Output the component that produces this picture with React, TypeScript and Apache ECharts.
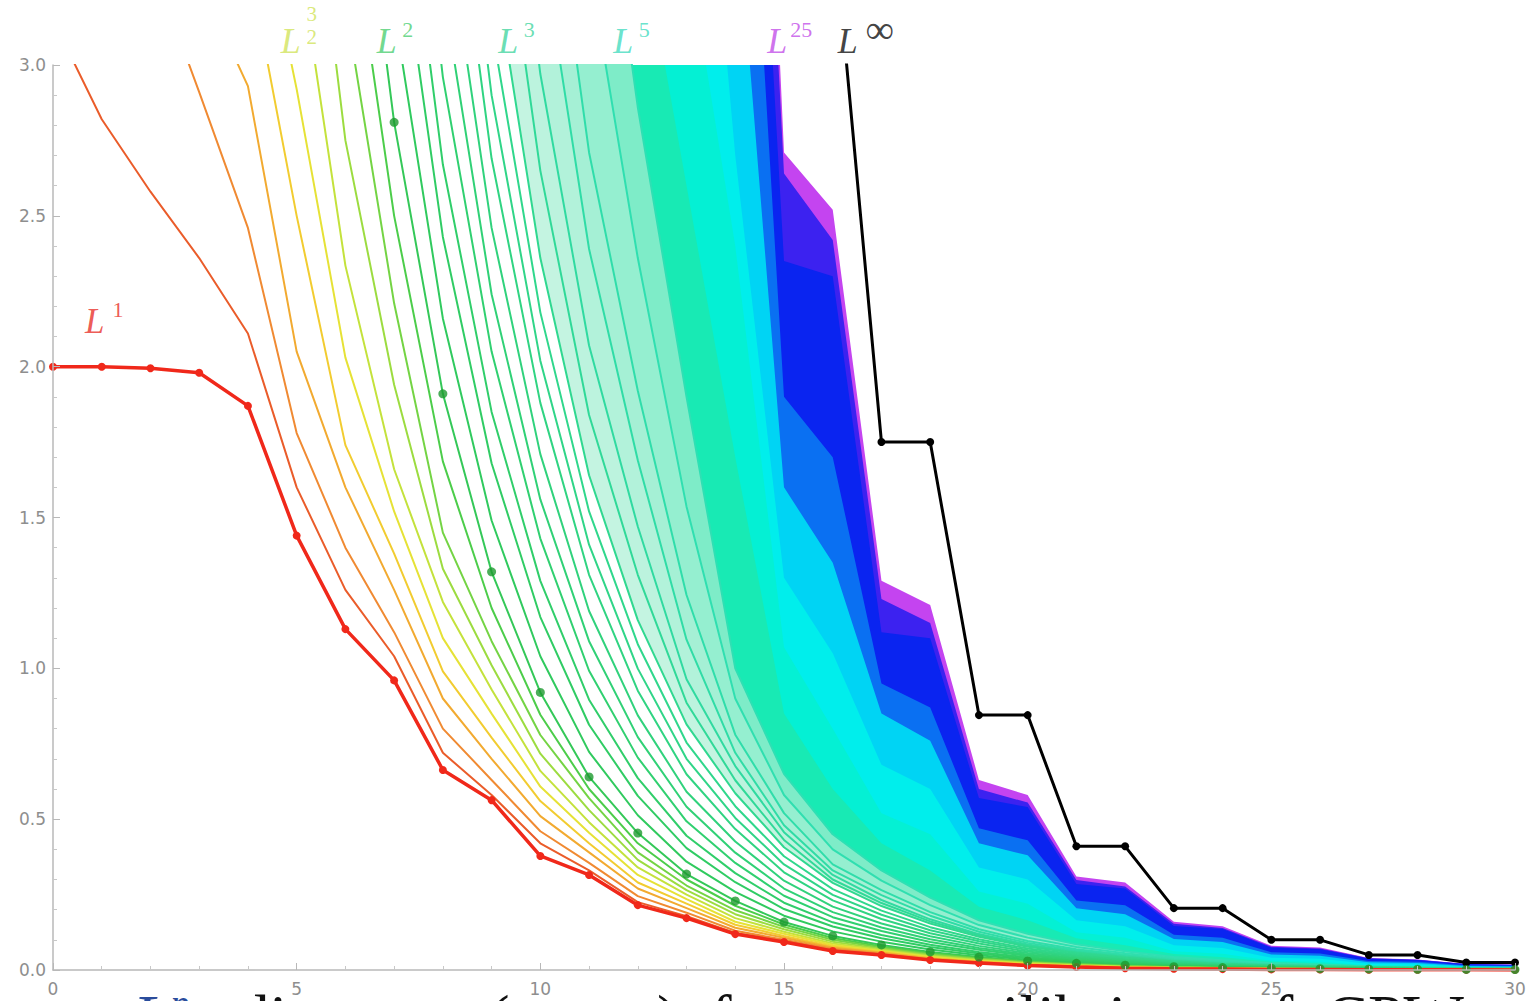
import React, { useEffect, useRef } from 'react';
import * as echarts from 'echarts';

// x positions (integer steps 0..30)
const XS = [0,1,2,3,4,5,6,7,8,9,10,11,12,13,14,15,16,17,18,19,20,21,22,23,24,25,26,27,28,29,30];
const N = null;

// L^p curves, p = 1 + 0.1k (null = not drawn)
const L1 = [2.0,2.0,1.995,1.98,1.87,1.44,1.13,0.96,0.663,0.563,0.378,0.315,0.215,0.172,0.119,0.093,0.063,0.05,0.033,0.023,0.015,0.01,0.006,0.004,0.003,0.002,0.0015,0.001,0.0007,0.0005,0.0003];
const P1_1 = [3.15,2.82,2.58,2.36,2.11,1.60,1.26,1.04,0.72,0.58,0.42,0.33,0.225,0.178,0.123,0.095,0.065,0.051,0.034,0.024,0.016,0.011,0.007,0.0047,0.0034,0.0024,0.0017,0.0012,0.0008,0.0006,0.0004];
const P1_2 = [4.0,3.7,3.35,2.91,2.46,1.78,1.40,1.12,0.80,0.63,0.46,0.355,0.245,0.19,0.13,0.10,0.07,0.054,0.036,0.025,0.017,0.012,0.0075,0.005,0.0037,0.0027,0.0019,0.0014,0.001,0.0007,0.0005];
const P1_3 = [4.4,4.0,3.65,3.28,2.93,2.05,1.60,1.26,0.90,0.70,0.51,0.39,0.27,0.205,0.14,0.107,0.074,0.057,0.038,0.027,0.018,0.012,0.008,0.0055,0.004,0.003,0.0022,0.0016,0.0012,0.0009,0.0006];
const P1_4 = [N,4.4,4.1,3.75,3.35,2.50,1.74,1.38,0.99,0.77,0.56,0.42,0.29,0.22,0.15,0.113,0.078,0.06,0.04,0.028,0.019,0.013,0.009,0.006,0.0045,0.0033,0.0024,0.0018,0.0013,0.001,0.0007];
const P1_5 = [N,N,N,4.3,3.7,2.92,2.03,1.52,1.10,0.85,0.608,0.455,0.315,0.235,0.16,0.12,0.083,0.063,0.043,0.03,0.02,0.014,0.01,0.007,0.005,0.004,0.003,0.002,0.0015,0.001,0.001];
const P1_6 = [N,N,N,N,4.3,3.41,2.335,1.66,1.22,0.93,0.66,0.49,0.34,0.25,0.172,0.127,0.088,0.066,0.046,0.032,0.022,0.015,0.011,0.008,0.006,0.0045,0.0035,0.0025,0.002,0.0015,0.0011];
const P1_7 = [N,N,N,N,5.0,4.07,2.75,1.94,1.33,1.01,0.717,0.53,0.365,0.265,0.185,0.135,0.094,0.07,0.049,0.035,0.024,0.017,0.012,0.0085,0.0065,0.005,0.0038,0.0028,0.0021,0.0016,0.0012];
const P1_8 = [N,N,N,N,N,4.6,3.2,2.21,1.45,1.09,0.779,0.57,0.39,0.28,0.198,0.143,0.10,0.074,0.052,0.037,0.026,0.019,0.013,0.009,0.007,0.0053,0.004,0.003,0.0022,0.0017,0.0013];
const P1_9 = [N,N,N,N,N,5.2,3.61,2.5,1.686,1.2,0.846,0.60,0.42,0.30,0.213,0.151,0.106,0.078,0.056,0.04,0.028,0.02,0.0145,0.01,0.0075,0.0056,0.0042,0.0032,0.0023,0.0018,0.0014];
const P2_0 = [N,N,N,N,N,5.9,4.08,2.81,1.91,1.32,0.92,0.64,0.454,0.318,0.229,0.159,0.113,0.083,0.06,0.043,0.03,0.022,0.016,0.011,0.008,0.006,0.0045,0.0035,0.0025,0.002,0.0015];
const P2_1 = [N,N,N,N,N,N,4.61,3.18,2.16,1.49,1.04,0.723,0.513,0.359,0.259,0.18,0.128,0.094,0.068,0.049,0.034,0.025,0.018,0.012,0.009,0.007,0.005,0.004,0.003,0.002,0.0017];
const P2_2 = [N,N,N,N,N,N,5.18,3.57,2.43,1.68,1.17,0.813,0.577,0.404,0.291,0.202,0.144,0.105,0.076,0.055,0.038,0.028,0.02,0.014,0.01,0.0076,0.0057,0.0044,0.0032,0.0025,0.0019];
const P2_3 = [N,N,N,N,N,N,5.71,3.93,2.67,1.85,1.29,0.896,0.636,0.445,0.321,0.223,0.158,0.116,0.084,0.06,0.042,0.031,0.022,0.015,0.011,0.0084,0.0063,0.0049,0.0035,0.0028,0.0021];
const P2_4 = [N,N,N,N,N,N,6.32,4.36,2.96,2.05,1.43,0.992,0.704,0.493,0.355,0.246,0.175,0.129,0.093,0.067,0.047,0.034,0.025,0.017,0.012,0.0093,0.007,0.0054,0.0039,0.0031,0.0023];
const P2_5 = [N,N,N,N,N,N,6.94,4.78,3.25,2.24,1.56,1.09,0.772,0.541,0.389,0.27,0.192,0.141,0.102,0.073,0.051,0.037,0.027,0.019,0.014,0.01,0.0077,0.006,0.0043,0.0034,0.0026];
const P2_6 = [N,N,N,N,N,N,7.59,5.23,3.55,2.46,1.71,1.19,0.844,0.591,0.426,0.296,0.21,0.154,0.112,0.08,0.056,0.041,0.03,0.02,0.015,0.011,0.0084,0.0065,0.0047,0.0037,0.0028];
const P2_7 = [N,N,N,N,N,N,8.32,5.73,3.9,2.69,1.88,1.31,0.926,0.649,0.467,0.324,0.231,0.169,0.122,0.088,0.061,0.045,0.033,0.022,0.016,0.012,0.0092,0.0071,0.0051,0.0041,0.0031];
const P2_8 = [N,N,N,N,N,N,8.98,6.18,4.2,2.9,2.02,1.41,0.999,0.7,0.504,0.35,0.249,0.183,0.132,0.095,0.066,0.048,0.035,0.024,0.018,0.013,0.0099,0.0077,0.0055,0.0044,0.0033];
const P2_9 = [N,N,N,N,N,N,9.67,6.66,4.53,3.13,2.18,1.52,1.08,0.754,0.543,0.377,0.268,0.197,0.142,0.102,0.071,0.052,0.038,0.026,0.019,0.014,0.011,0.0083,0.0059,0.0047,0.0036];
const P3_0 = [N,N,N,N,N,N,10.4,7.19,4.89,3.38,2.36,1.64,1.16,0.814,0.586,0.407,0.289,0.212,0.154,0.11,0.077,0.056,0.041,0.028,0.02,0.015,0.012,0.009,0.0064,0.0051,0.0038];
const P3_2 = [N,N,N,N,N,N,N,8.09,5.5,3.8,2.65,1.84,1.31,0.886,0.629,0.431,0.30,0.222,0.161,0.115,0.0805,0.0583,0.0427,0.0292,0.021,0.0156,0.0124,0.0093,0.0066,0.0052,0.0039];
const P3_4 = [N,N,N,N,N,N,N,9.08,6.17,4.26,2.97,2.07,1.47,0.964,0.676,0.457,0.315,0.232,0.168,0.119,0.0842,0.0607,0.0444,0.0304,0.022,0.0162,0.0128,0.0096,0.0069,0.0053,0.004];
const P3_7 = [N,N,N,N,N,N,N,10.5,7.12,4.92,3.43,2.39,1.69,1.095,0.72,0.48,0.33,0.248,0.18,0.127,0.0899,0.0645,0.0472,0.0325,0.0236,0.0171,0.0136,0.01,0.0072,0.0056,0.0042];
const P4_0 = [N,N,N,N,N,N,N,11.9,8.08,5.58,3.89,2.71,1.92,1.243,0.78,0.52,0.35,0.265,0.192,0.135,0.0961,0.0686,0.0502,0.0347,0.0253,0.0182,0.0143,0.0104,0.0076,0.0058,0.0044];
const P4_5 = [N,N,N,N,N,N,N,14.6,9.93,6.86,4.78,3.33,2.36,1.536,0.9,0.58,0.4,0.296,0.215,0.149,0.1073,0.0759,0.0556,0.0386,0.0285,0.02,0.0156,0.0111,0.0083,0.0061,0.0047];
const P5_0 = [N,N,N,N,N,N,N,17.7,12.0,8.32,5.8,4.03,2.86,1.9,1.0,0.65,0.45,0.33,0.24,0.165,0.12,0.085,0.062,0.043,0.032,0.022,0.017,0.012,0.009,0.0065,0.005];
const P7 = [N,N,N,N,N,N,N,24,16.4,11.4,7.9,5.5,3.5,2.6,1.7,0.85,0.6,0.42,0.33,0.21,0.165,0.105,0.082,0.053,0.042,0.027,0.022,0.014,0.011,0.0075,0.006];
const P10 = [N,N,N,N,N,N,N,32,21.8,15,10.5,7.3,5.0,3.4,2.4,1.07,0.8,0.52,0.45,0.26,0.22,0.125,0.107,0.062,0.054,0.031,0.027,0.016,0.014,0.0085,0.0073];
const P13 = [N,N,N,N,N,N,N,36,24,17,12,8.5,6.5,4.5,2.7,1.3,1.05,0.68,0.6,0.34,0.3,0.165,0.145,0.082,0.073,0.041,0.037,0.021,0.019,0.011,0.0098];
const P17 = [N,N,N,N,N,N,N,44,30,21,14,10,8,5.5,3.6,1.6,1.35,0.85,0.76,0.42,0.38,0.205,0.185,0.103,0.093,0.051,0.047,0.026,0.023,0.0135,0.012];
const P20 = [N,N,N,N,N,N,N,55,38,26,18,12,8.5,6.0,4.6,1.9,1.7,0.95,0.87,0.47,0.43,0.23,0.215,0.117,0.107,0.059,0.055,0.03,0.027,0.0155,0.014];
const P22 = [N,N,N,N,N,N,N,60,41,28,19.5,13,9,6.3,5.2,2.35,2.3,1.12,1.1,0.57,0.54,0.285,0.27,0.146,0.136,0.074,0.069,0.037,0.033,0.019,0.0168];
const P24 = [N,N,N,N,N,N,N,66,45,31,21,14,9.2,6.6,5.8,2.64,2.42,1.23,1.15,0.6,0.555,0.298,0.277,0.153,0.139,0.077,0.071,0.039,0.034,0.0197,0.0174];
const P25 = [N,N,N,N,N,N,N,70,48,33,22,15,9.5,6.8,6.3,2.71,2.52,1.29,1.21,0.63,0.58,0.31,0.29,0.16,0.145,0.08,0.075,0.04,0.035,0.02,0.018];
const LINF = [N,N,N,N,N,N,N,N,N,N,N,N,N,N,N,3.5,3.5,1.75,1.75,0.845,0.845,0.41,0.41,0.205,0.205,0.1,0.1,0.05,0.05,0.025,0.025];

// label texts and their x positions (axis units)
const TOP_LABEL_X = [4.88, 6.85, 9.34, 11.70, 14.86, 16.31];
const TOP_LABEL_SUP = ['3\n2', '2', '3', '5', '25', '\u221e'];
const TOP_LABEL_COLOR = ['#d2e45a', '#4ccf72', '#44d6a0', '#44dcc0', '#c24ee8', '#111111'];
const L1_LABEL = [1.05, 2.15];
const X_TICKS = [0, 5, 10, 15, 20, 25, 30];
const Y_TICKS = [0, 0.5, 1.0, 1.5, 2.0, 2.5, 3.0];
const S = '\u00a0';

function pairs(vals: (number | null)[]) {
  const out: number[][] = [];
  vals.forEach((v, i) => { if (v !== null) out.push([XS[i], v]); });
  return out;
}

function band(data: (number | null)[], fill: string, line?: string, lw = 2) {
  return {
    type: 'line', data: pairs(data), symbol: 'none', showSymbol: false, silent: true,
    lineStyle: line ? { color: line, width: lw } : { width: 0, opacity: 0 },
    areaStyle: { color: fill, opacity: 1, origin: 'start' },
    z: 2,
  };
}
function plain(data: (number | null)[], color: string, lw = 2) {
  return {
    type: 'line', data: pairs(data), symbol: 'none', showSymbol: false, silent: true,
    lineStyle: { color, width: lw }, z: 3,
  };
}

export default function App() {
  const ref = useRef<HTMLDivElement>(null);
  useEffect(() => {
    if (!ref.current) return;
    const chart = echarts.init(ref.current, null, { renderer: 'svg' });
    const thinLines: [any, string][] = [
      [P2_9, '#30d78c'], [P2_8, '#30d588'], [P2_7, '#30d482'], [P2_6, '#30d27c'], [P2_5, '#30d176'],
      [P2_4, '#30d070'], [P2_3, '#30ce6a'], [P2_2, '#30cc64'], [P2_1, '#30ca5e'], [P2_0, '#34c858'],
      [P1_9, '#4ccd4a'], [P1_8, '#74d444'], [P1_7, '#9cdc40'], [P1_6, '#c4e23c'], [P1_5, '#e6e236'],
      [P1_4, '#f2cc30'], [P1_3, '#f2aa30'], [P1_2, '#f08a32'], [P1_1, '#ea5c2a'],
    ];
    const series: any[] = [
      band(P25, '#c444f0'),
      band(P24, '#3c22f0'),
      band(P22, '#0a24f0'),
      band(P20, '#0a70f2'),
      band(P17, '#00d4f4'),
      band(P13, '#00eeec'),
      band(P10, '#04f0d4'),
      band(P7, '#18eab4'),
      band(P5_0, '#7eecc8', '#2ee0b4'),
      band(P4_5, '#95efd0', '#30dfb0'),
      band(P4_0, '#a5f0d5', '#30ddaa'),
      band(P3_7, '#b2f2da', '#30dca6'),
      band(P3_4, '#bcf3de', '#30daa0'),
      band(P3_2, '#c4f4e1', '#30d998'),
      band(P3_0, '#ffffff', '#30d890'),
      ...thinLines.map(([d, c]) => plain(d, c, 2)),
      {
        type: 'line', data: pairs(L1), symbol: 'circle', symbolSize: 8, showSymbol: true, silent: true,
        lineStyle: { color: '#f0281a', width: 3.5 }, itemStyle: { color: '#f0281a' }, z: 4,
      },
      {
        type: 'line', data: pairs(LINF), symbol: 'circle', symbolSize: 8, showSymbol: true, silent: true,
        lineStyle: { color: '#000000', width: 3 }, itemStyle: { color: '#000000' }, z: 4,
      },
      {
        type: 'scatter', data: pairs(P2_0).filter((p) => p[0] >= 7), symbolSize: 9, silent: true,
        itemStyle: { color: '#1e9a30' }, z: 5,
      },
      {
        type: 'scatter', silent: true, clip: false, symbolSize: 0, z: 20,
        data: TOP_LABEL_X.map((x, i) => ({
          value: [x, 3.0],
          label: { color: TOP_LABEL_COLOR[i] },
        })),
        label: {
          show: true, position: 'inside', formatter: 'L', offset: [0, -24],
          fontFamily: 'Liberation Serif', fontStyle: 'italic', fontSize: 36,
        },
      },
      {
        type: 'scatter', silent: true, clip: false, symbolSize: 0, z: 20,
        data: TOP_LABEL_X.map((x, i) => ({
          value: [x, 3.0],
          label: {
            color: TOP_LABEL_COLOR[i],
            formatter: TOP_LABEL_SUP[i],
            fontSize: i === 5 ? 40 : i === 0 ? 21 : 22,
            lineHeight: i === 0 ? 23 : 24,
            offset: i === 5 ? [32, -36] : i === 0 ? [21, -40] : i === 4 ? [24, -36] : [21, -36],
          },
        })),
        label: {
          show: true, position: 'inside', fontFamily: 'Liberation Serif', fontSize: 22,
        },
      },
      {
        type: 'scatter', silent: true, clip: false, symbolSize: 0, z: 20,
        data: [{ value: L1_LABEL }],
        label: {
          show: true, position: 'inside',
          formatter: '{l|L}{s|1}',
          rich: {
            l: { fontFamily: 'Liberation Serif', fontStyle: 'italic', fontSize: 35, color: '#e8302a' },
            s: { fontFamily: 'Liberation Serif', fontSize: 22, color: '#e8302a', padding: [0, 0, 24, 8] },
          },
        },
      },
    ];

    chart.setOption({
      animation: false,
      backgroundColor: '#ffffff',
      grid: { left: 53, right: 15, top: 65, bottom: 31, containLabel: false },
      xAxis: {
        type: 'value', min: 0, max: 30, interval: 5, z: 10,
        axisLine: { show: true, lineStyle: { color: '#b8b8b8', width: 1.5 } },
        axisTick: { show: true, inside: true, length: 7, lineStyle: { color: '#b8b8b8' } },
        minorTick: { show: true, splitNumber: 5, length: 4, lineStyle: { color: '#c8c8c8' } },
        splitLine: { show: false },
        axisLabel: {
          color: '#8e8e8e', fontSize: 17, fontFamily: 'DejaVu Sans', margin: 10,
          formatter: (v: number) => (X_TICKS.includes(v) ? String(v) : ''),
        },
      },
      yAxis: {
        type: 'value', min: 0, max: 3, interval: 0.5, z: 10,
        axisLine: { show: true, lineStyle: { color: '#b8b8b8', width: 1.5 } },
        axisTick: { show: true, inside: true, length: 7, lineStyle: { color: '#b8b8b8' } },
        minorTick: { show: true, splitNumber: 5, length: 4, lineStyle: { color: '#c8c8c8' } },
        splitLine: { show: false },
        axisLabel: {
          color: '#8e8e8e', fontSize: 17, fontFamily: 'DejaVu Sans', margin: 7,
          formatter: (v: number) => (Y_TICKS.includes(v) ? v.toFixed(1) : ''),
        },
      },
      graphic: [
        {
          type: 'text', left: 133, top: 984, z: 50, silent: true,
          style: {
            text: '{m|L}{ms|p}{n|' + S + S + S + 'distances (over }{m|t}{n|)' + S + S + 'for' + S + S + 'an' + S + S + 'equilibrium' + S + S + 'of' + S + S + 'CPW}',
            rich: {
              m: { fontFamily: 'Liberation Serif', fontStyle: 'italic', fontSize: 64, fill: '#2a4c9c' },
              ms: { fontFamily: 'Liberation Serif', fontStyle: 'italic', fontSize: 38, fill: '#2a4c9c', padding: [0, 0, 28, 2] },
              n: { fontFamily: 'Liberation Serif', fontSize: 64, fill: '#111111' },
            },
          },
        },
      ],
      series,
    });
    return () => chart.dispose();
  }, []);
  return <div ref={ref} style={{ position: 'absolute', left: 0, top: 0, width: 1530, height: 1001 }} />;
}
